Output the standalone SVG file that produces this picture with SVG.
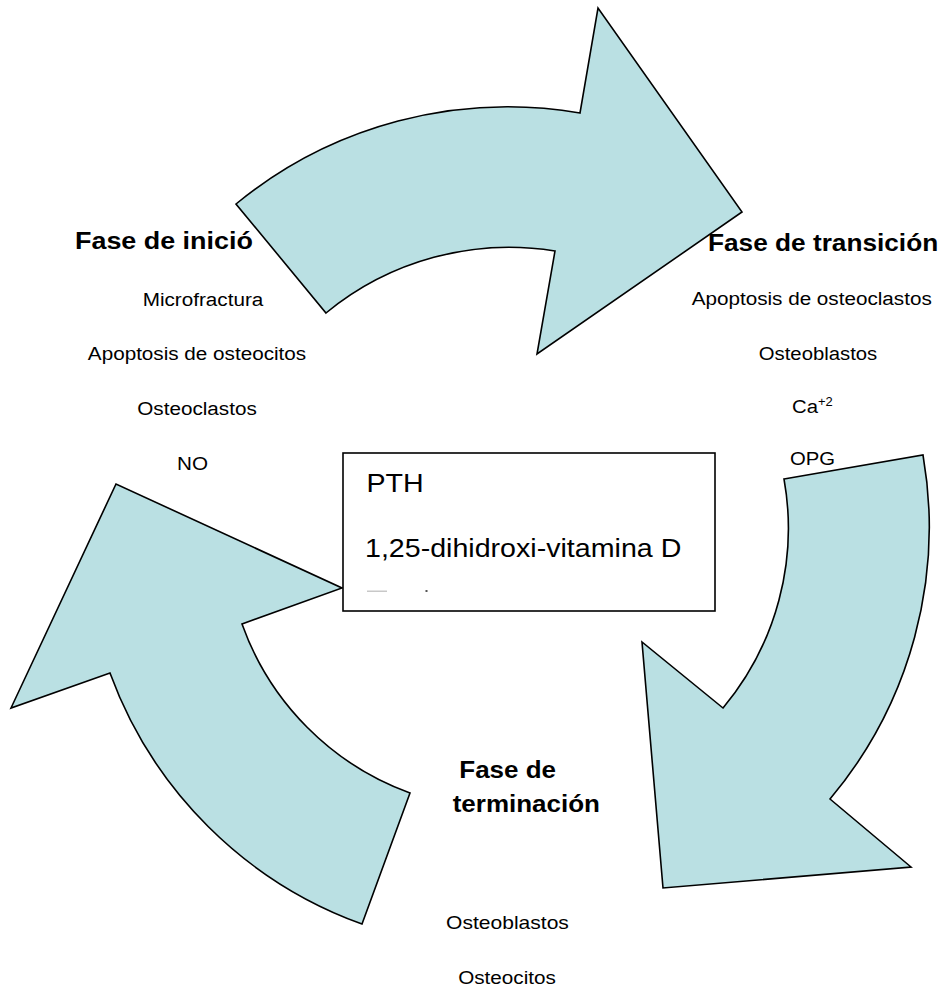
<svg xmlns="http://www.w3.org/2000/svg" width="942" height="992" viewBox="0 0 942 992">
<style>
.arrow{fill:#bae0e3;stroke:#000;stroke-width:1.6;stroke-linejoin:miter}
.t{font-family:"Liberation Sans",Arial,sans-serif;fill:#000}
.s{font-size:18.8px}
.b{font-size:23px;font-weight:bold}
.bx{font-size:26px}
.m{text-anchor:middle}
</style>
<rect width="942" height="992" fill="#fff"/>
<g id="connectors">
<path id="arrow-top" class="arrow" d="M236,204 A428,428 0 0 1 580,113 L598,8 L742,212 L537,354 L555,251 A288,288 0 0 0 326,313 Z"/>
<path id="arrow-right" class="arrow" d="M784,479 L923,455 A422,422 0 0 1 830,799 L911,867 L663,888 L642,642 L723,708 A280,280 0 0 0 784,479 Z"/>
<path id="arrow-left" class="arrow" d="M362,924 A420,420 0 0 1 110,673 L11,708 L116,484 L342,588 L242,624 A280,280 0 0 0 410,793 Z"/>
</g>
<g id="center-box">
<rect x="343" y="453" width="372" height="158" fill="#fff" stroke="#000" stroke-width="1.6"/>
<text class="t bx" transform="translate(366.5,491.5) scale(1.1,1)">PTH</text>
<text class="t bx" transform="translate(365,556.5) scale(1.1,1)">1,25-dihidroxi-vitamina D</text>
<rect x="367" y="590.5" width="20" height="1.5" fill="#c8c8c8"/>
<rect x="425.5" y="590" width="2" height="2" fill="#555"/>
</g>
<g id="fase-inicio">
<text class="t b" transform="translate(75,249) scale(1.17,1)">Fase de inició</text>
<text class="t s m" transform="translate(203,306) scale(1.1,1)">Microfractura</text>
<text class="t s m" transform="translate(197,360) scale(1.1,1)">Apoptosis de osteocitos</text>
<text class="t s m" transform="translate(197,415) scale(1.1,1)">Osteoclastos</text>
<text class="t s m" transform="translate(192.5,470) scale(1.1,1)">NO</text>
</g>
<g id="fase-transicion">
<text class="t b" transform="translate(708,251) scale(1.14,1)">Fase de transición</text>
<text class="t s m" transform="translate(811.7,305) scale(1.1,1)">Apoptosis de osteoclastos</text>
<text class="t s m" transform="translate(818,360) scale(1.08,1)">Osteoblastos</text>
<text class="t s" transform="translate(792,413) scale(1.08,1)">Ca<tspan font-size="12" dy="-7">+2</tspan></text>
<text class="t s" transform="translate(790,465) scale(1.08,1)">OPG</text>
</g>
<g id="fase-terminacion">
<text class="t b" transform="translate(459.3,778) scale(1.13,1)">Fase de</text>
<text class="t b" transform="translate(452.7,812) scale(1.13,1)">terminación</text>
<text class="t s m" transform="translate(507.5,929) scale(1.12,1)">Osteoblastos</text>
<text class="t s m" transform="translate(507,984) scale(1.1,1)">Osteocitos</text>
</g>
</svg>
